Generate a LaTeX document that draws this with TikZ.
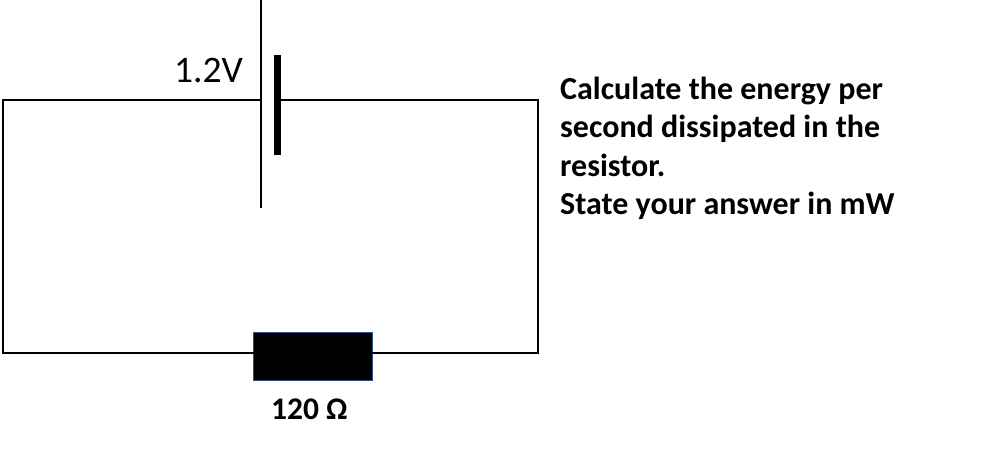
\documentclass[tikz,border=0pt]{standalone}
\usepackage{fontspec}
\setmainfont{Carlito}
\begin{document}
\begin{tikzpicture}[x=1pt,y=-1pt,
  wire/.style={line width=2.8pt},
  plate/.style={draw=none,fill=black,minimum width=7pt,minimum height=100pt,inner sep=0pt},
  resbox/.style={draw={rgb,255:red,47;green,82;blue,143},line width=0.8pt,fill=black,minimum width=119pt,minimum height=48pt,inner sep=0pt}]
\useasboundingbox (0,0) rectangle (981,448);
% corners
\coordinate (tl) at (3,100);
\coordinate (tr) at (538,100);
\coordinate (br) at (538,353);
\coordinate (bl) at (3,353);
% battery
\coordinate (ptop) at (261,0);
\coordinate (pbot) at (261,208);
\coordinate (pmid) at (261,100);
\node[plate] (short) at (277,105) {};
\node[resbox] (res) at (313,356) {};
% wires
\draw[line width=2.4pt] (ptop) -- (pbot);
\draw[wire,line cap=rect] (pmid) -- (tl) -- (bl) -- (bl -| res.west);
\draw[wire,line cap=rect] (short.east |- tr) -- (tr) -- (br) -- (br -| res.east);
% labels
\node[font=\fontsize{37.5}{44}\selectfont,anchor=base east,inner sep=0pt] (vlab) at (243,82) {1.2V};
\node[font=\fontsize{31.5}{38}\selectfont\bfseries,anchor=base west,inner sep=0pt] (rlab) at (271,419) {120 Ω};
\node[font=\fontsize{32}{38.5}\selectfont\bfseries,anchor=north west,align=left,inner sep=0pt] (q) at (560,76.5) {Calculate the energy per\\second dissipated in the\\resistor.\\State your answer in mW};
\end{tikzpicture}
\end{document}
